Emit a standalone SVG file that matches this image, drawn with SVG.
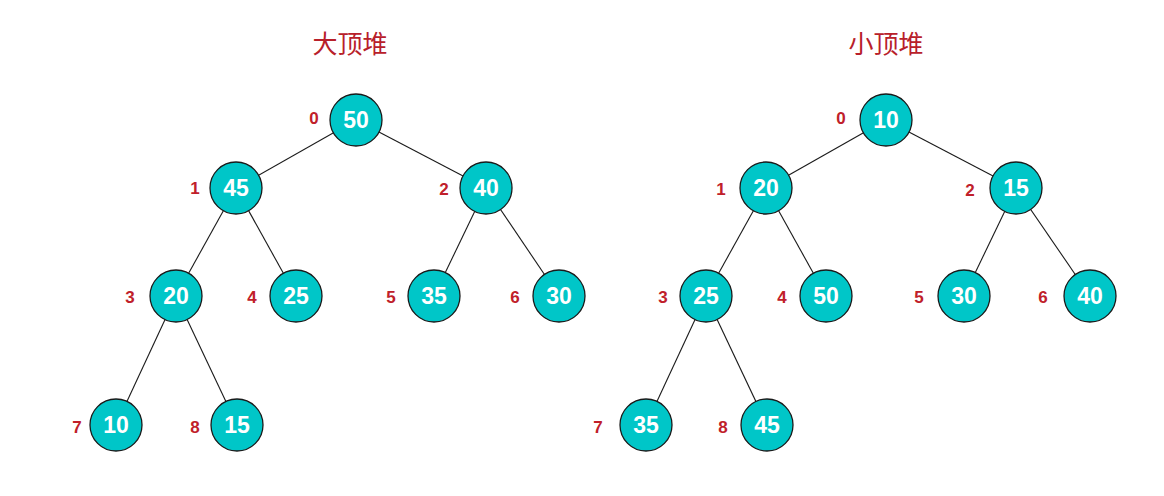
<svg xmlns="http://www.w3.org/2000/svg" width="1164" height="496" viewBox="0 0 1164 496">
<style>
.n{fill:#00c6c8;stroke:#1a1a1a;stroke-width:1.3}
.v{font-family:"Liberation Sans",Arial,sans-serif;font-weight:bold;font-size:23px;fill:#ffffff;text-anchor:middle;dominant-baseline:central}
.i{font-family:"Liberation Sans",Arial,sans-serif;font-weight:bold;font-size:17px;fill:#c0202a;text-anchor:middle;dominant-baseline:central}
.t{font-family:"Noto Sans CJK SC","Liberation Sans",sans-serif;font-size:25px;fill:#b8202a;text-anchor:middle;dominant-baseline:central}
.e{stroke:#1a1a1a;stroke-width:1.1;fill:none}
</style>
<rect width="1164" height="496" fill="#ffffff"/>
<text class="t" x="350" y="42">大顶堆</text>
<text class="t" x="886" y="42">小顶堆</text>
<g id="connectors">
<line class="e" x1="356" y1="120" x2="236" y2="188"/>
<line class="e" x1="356" y1="120" x2="486" y2="188"/>
<line class="e" x1="236" y1="188" x2="176" y2="296"/>
<line class="e" x1="236" y1="188" x2="296" y2="296"/>
<line class="e" x1="486" y1="188" x2="434" y2="296"/>
<line class="e" x1="486" y1="188" x2="559" y2="296"/>
<line class="e" x1="176" y1="296" x2="116" y2="425"/>
<line class="e" x1="176" y1="296" x2="237" y2="425"/>
<line class="e" x1="886" y1="120" x2="766" y2="188"/>
<line class="e" x1="886" y1="120" x2="1016" y2="188"/>
<line class="e" x1="766" y1="188" x2="706" y2="296"/>
<line class="e" x1="766" y1="188" x2="826" y2="296"/>
<line class="e" x1="1016" y1="188" x2="964" y2="296"/>
<line class="e" x1="1016" y1="188" x2="1090" y2="296"/>
<line class="e" x1="706" y1="296" x2="646" y2="425"/>
<line class="e" x1="706" y1="296" x2="767" y2="425"/>
</g>
<g id="L0"><circle class="n" cx="356" cy="120" r="26"/><text class="v" x="356" y="120">50</text><text class="i" x="314" y="118">0</text></g>
<g id="L1"><circle class="n" cx="236" cy="188" r="26"/><text class="v" x="236" y="188">45</text><text class="i" x="195" y="188">1</text></g>
<g id="L2"><circle class="n" cx="486" cy="188" r="26"/><text class="v" x="486" y="188">40</text><text class="i" x="444" y="189">2</text></g>
<g id="L3"><circle class="n" cx="176" cy="296" r="26"/><text class="v" x="176" y="296">20</text><text class="i" x="130" y="297">3</text></g>
<g id="L4"><circle class="n" cx="296" cy="296" r="26"/><text class="v" x="296" y="296">25</text><text class="i" x="252" y="297">4</text></g>
<g id="L5"><circle class="n" cx="434" cy="296" r="26"/><text class="v" x="434" y="296">35</text><text class="i" x="391" y="297">5</text></g>
<g id="L6"><circle class="n" cx="559" cy="296" r="26"/><text class="v" x="559" y="296">30</text><text class="i" x="515" y="297">6</text></g>
<g id="L7"><circle class="n" cx="116" cy="425" r="26"/><text class="v" x="116" y="425">10</text><text class="i" x="77" y="427">7</text></g>
<g id="L8"><circle class="n" cx="237" cy="425" r="26"/><text class="v" x="237" y="425">15</text><text class="i" x="195" y="427">8</text></g>
<g id="R0"><circle class="n" cx="886" cy="120" r="26"/><text class="v" x="886" y="120">10</text><text class="i" x="841" y="118">0</text></g>
<g id="R1"><circle class="n" cx="766" cy="188" r="26"/><text class="v" x="766" y="188">20</text><text class="i" x="721" y="189">1</text></g>
<g id="R2"><circle class="n" cx="1016" cy="188" r="26"/><text class="v" x="1016" y="188">15</text><text class="i" x="970" y="190">2</text></g>
<g id="R3"><circle class="n" cx="706" cy="296" r="26"/><text class="v" x="706" y="296">25</text><text class="i" x="663" y="297">3</text></g>
<g id="R4"><circle class="n" cx="826" cy="296" r="26"/><text class="v" x="826" y="296">50</text><text class="i" x="782" y="297">4</text></g>
<g id="R5"><circle class="n" cx="964" cy="296" r="26"/><text class="v" x="964" y="296">30</text><text class="i" x="919" y="297">5</text></g>
<g id="R6"><circle class="n" cx="1090" cy="296" r="26"/><text class="v" x="1090" y="296">40</text><text class="i" x="1043" y="297">6</text></g>
<g id="R7"><circle class="n" cx="646" cy="425" r="26"/><text class="v" x="646" y="425">35</text><text class="i" x="598" y="427">7</text></g>
<g id="R8"><circle class="n" cx="767" cy="425" r="26"/><text class="v" x="767" y="425">45</text><text class="i" x="723" y="427">8</text></g>
</svg>
